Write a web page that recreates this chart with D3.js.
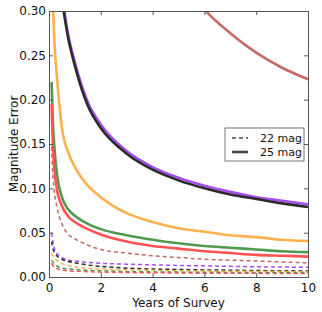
<!DOCTYPE html>
<html>
<head>
<meta charset="utf-8">
<script src="https://cdn.jsdelivr.net/npm/d3@7"></script>
<style>
  body { margin: 0; background: #fff; }
  text { font-family: "DejaVu Sans", sans-serif; }
</style>
</head>
<body>
<div id="chart"></div>
<script>
// years of survey sampled for every curve
const years = [0.1, 0.15, 0.2, 0.3, 0.5, 0.75, 1, 1.5, 2, 3, 4, 5, 6, 7, 8, 9, 10];

// 25 mag (solid), null = off the top of the plot
const brown25  = [null, null, null, null, null, null, null, null, null, null, null, 0.345, 0.302, 0.275, 0.253, 0.236, 0.223];
const purple25 = [null, null, null, null, 0.318, 0.272, 0.242, 0.197, 0.172, 0.142, 0.124, 0.112, 0.103, 0.096, 0.090, 0.086, 0.082];
const black25  = [null, null, null, null, 0.312, 0.268, 0.238, 0.193, 0.168, 0.139, 0.121, 0.109, 0.100, 0.093, 0.088, 0.083, 0.079];
const orange25 = [null, 0.310, 0.270, 0.228, 0.168, 0.140, 0.124, 0.103, 0.090, 0.072, 0.062, 0.055, 0.051, 0.047, 0.045, 0.042, 0.0406];
const green25  = [0.220, 0.175, 0.150, 0.118, 0.090, 0.076, 0.069, 0.060, 0.054, 0.047, 0.042, 0.038, 0.035, 0.033, 0.031, 0.029, 0.028];
const red25    = [0.195, 0.150, 0.125, 0.100, 0.080, 0.068, 0.062, 0.054, 0.048, 0.040, 0.035, 0.032, 0.029, 0.027, 0.025, 0.024, 0.023];

// 22 mag (dashed)
const brown22  = [0.147, 0.115, 0.098, 0.080, 0.060, 0.048, 0.043, 0.036, 0.031, 0.027, 0.024, 0.022, 0.020, 0.019, 0.018, 0.017, 0.016];
const purple22 = [0.050, 0.040, 0.033, 0.027, 0.022, 0.019, 0.018, 0.0165, 0.0155, 0.0145, 0.0137, 0.013, 0.0125, 0.012, 0.0115, 0.0112, 0.011];
const black22  = [0.040, 0.032, 0.028, 0.024, 0.020, 0.0175, 0.016, 0.0135, 0.012, 0.010, 0.009, 0.0085, 0.008, 0.0077, 0.0073, 0.007, 0.0068];
const orange22 = [0.027, 0.024, 0.022, 0.019, 0.015, 0.013, 0.0115, 0.010, 0.009, 0.008, 0.0075, 0.007, 0.0067, 0.0065, 0.0063, 0.0061, 0.006];
const green22  = [0.019, 0.017, 0.015, 0.0125, 0.010, 0.009, 0.0085, 0.0075, 0.007, 0.006, 0.0058, 0.0055, 0.0053, 0.0052, 0.0051, 0.005, 0.005];
const red22    = [0.0155, 0.013, 0.011, 0.0095, 0.008, 0.007, 0.0065, 0.006, 0.0055, 0.005, 0.0048, 0.0045, 0.0043, 0.0042, 0.0041, 0.004, 0.004];

const xTicks = [0, 2, 4, 6, 8, 10];
const yTicks = [0, 0.05, 0.10, 0.15, 0.20, 0.25, 0.30];
const legendLabels = ["22 mag", "25 mag"];

const series = [
    {color: "#c46a68", solid: brown25,  dashed: brown22},
    {color: "#a64ef0", solid: purple25, dashed: purple22},
    {color: "#2b2b2b", solid: black25,  dashed: black22},
    {color: "#ffb04e", solid: orange25, dashed: orange22},
    {color: "#4f9a4f", solid: green25,  dashed: green22},
    {color: "#ff5252", solid: red25,    dashed: red22}
];

const W = 322, H = 312;
const margin = {top: 11, right: 14, bottom: 35, left: 49};

const x = d3.scaleLinear().domain([0, 10]).range([margin.left, W - margin.right]);
const y = d3.scaleLinear().domain([0, 0.3]).range([H - margin.bottom, margin.top]);

const svg = d3.select("#chart").append("svg")
    .attr("width", W)
    .attr("height", H);

svg.append("clipPath").attr("id", "clip")
    .append("rect")
    .attr("x", x(0)).attr("y", y(0.3))
    .attr("width", x(10) - x(0)).attr("height", y(0) - y(0.3));

const line = d3.line()
    .defined(d => d[1] != null)
    .x(d => x(d[0]))
    .y(d => y(d[1]))
    .curve(d3.curveMonotoneX);

const plot = svg.append("g").attr("clip-path", "url(#clip)");

series.forEach(s => {
    plot.append("path")
        .datum(years.map((t, i) => [t, s.dashed[i]]))
        .attr("d", line)
        .attr("fill", "none")
        .attr("stroke", s.color)
        .attr("stroke-width", 1.5)
        .attr("stroke-dasharray", "4,3");
});
series.forEach(s => {
    plot.append("path")
        .datum(years.map((t, i) => [t, s.solid[i]]))
        .attr("d", line)
        .attr("fill", "none")
        .attr("stroke", s.color)
        .attr("stroke-width", 2.6);
});

// axes, matplotlib classic look: ticks inward on all four sides
const axisColor = "#555";
const fontSize = "12px";

const gx = svg.append("g")
    .attr("transform", `translate(0,${y(0)})`)
    .call(d3.axisBottom(x).tickValues(xTicks).tickSize(-4).tickPadding(6).tickFormat(d3.format("d")));
const gxTop = svg.append("g")
    .attr("transform", `translate(0,${y(0.3)})`)
    .call(d3.axisTop(x).tickValues(xTicks).tickSize(-4).tickFormat(""));
const gy = svg.append("g")
    .attr("transform", `translate(${x(0)},0)`)
    .call(d3.axisLeft(y).tickValues(yTicks).tickSize(-4).tickPadding(3).tickFormat(d3.format(".2f")));
const gyRight = svg.append("g")
    .attr("transform", `translate(${x(10)},0)`)
    .call(d3.axisRight(y).tickValues(yTicks).tickSize(-4).tickFormat(""));

[gx, gxTop, gy, gyRight].forEach(g => {
    g.select(".domain").attr("stroke", axisColor).attr("stroke-width", 1);
    g.selectAll(".tick line").attr("stroke", axisColor);
    g.selectAll("text")
        .attr("fill", "#111")
        .style("font-size", fontSize)
        .style("font-family", "DejaVu Sans, sans-serif");
});

svg.append("text")
    .attr("x", (x(0) + x(10)) / 2)
    .attr("y", H - 5)
    .attr("text-anchor", "middle")
    .style("font-size", fontSize)
    .attr("fill", "#111")
    .text("Years of Survey");

svg.append("text")
    .attr("transform", `translate(14,${(y(0) + y(0.3)) / 2}) rotate(-90)`)
    .attr("text-anchor", "middle")
    .attr("dy", "0.35em")
    .style("font-size", fontSize)
    .attr("fill", "#111")
    .text("Magnitude Error");

// legend
const leg = svg.append("g").attr("transform", "translate(225,128)");
leg.append("rect")
    .attr("width", 79).attr("height", 33)
    .attr("fill", "#fff")
    .attr("stroke", "#555")
    .attr("stroke-width", 0.8);

legendLabels.forEach((lab, i) => {
    const ly = 10 + i * 14;
    leg.append("line")
        .attr("x1", 7).attr("x2", 23)
        .attr("y1", ly).attr("y2", ly)
        .attr("stroke", "#444")
        .attr("stroke-width", i === 0 ? 1.5 : 2.6)
        .attr("stroke-dasharray", i === 0 ? "4,3" : null);
    leg.append("text")
        .attr("x", 35).attr("y", ly)
        .attr("dy", "0.35em")
        .style("font-size", "11px")
        .attr("fill", "#111")
        .text(lab);
});
</script>
</body>
</html>
